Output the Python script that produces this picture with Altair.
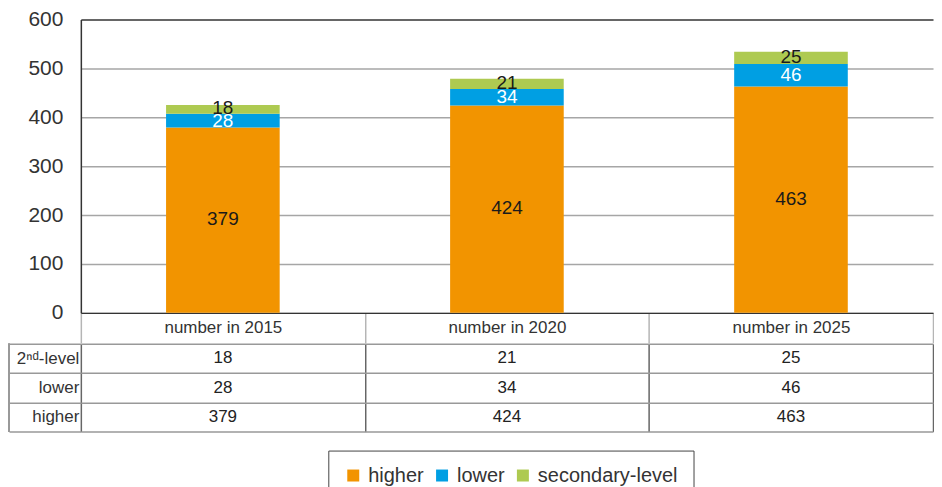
import altair as alt
import pandas as pd

categories = ["number in 2015", "number in 2020", "number in 2025"]
series = ["higher", "lower", "secondary-level"]
row_labels = ["higher", "lower", "2\u207f\u1d48-level"]
higher = [379, 424, 463]
lower = [28, 34, 46]
secondary = [18, 21, 25]

colors = ["#F29400", "#009FE3", "#AECA51"]
FONT = "Liberation Sans"

rows = []
for i, c in enumerate(categories):
    for j, (s, vals) in enumerate(zip(series, [higher, lower, secondary])):
        rows.append({"category": c, "series": s, "value": vals[i], "ord": j,
                     "row_label": row_labels[j]})
df = pd.DataFrame(rows)

W = 854
H = 294
TH = 88

base = alt.Chart(df).transform_stack(
    stack="value", groupby=["category"], sort=[alt.SortField("ord")], as_=["y0", "y1"]
).transform_calculate(mid="(datum.y0 + datum.y1) / 2")

xscale = alt.Scale(paddingInner=0, paddingOuter=0)
xaxis = alt.Axis(title=None, labelFontSize=17, labelColor="#333", labelFont=FONT,
                 labelBaseline="middle", labelPadding=-15, tickSize=30,
                 tickBand="extent", tickColor="#b5b5b5", tickWidth=1.5,
                 domainColor="#333", domainWidth=1.5, labelAngle=0)
yaxis = alt.Axis(title=None, values=[0, 100, 200, 300, 400, 500, 600],
                 labelFontSize=21, labelColor="#333", labelFont=FONT,
                 ticks=False, labelPadding=18, domainColor="#333", domainWidth=1.5,
                 gridColor={"condition": {"test": "datum.value === 600", "value": "#333"},
                            "value": "#a6a6a6"},
                 gridWidth=1.5)

bars = base.mark_bar(width=alt.RelativeBandSize(0.4)).encode(
    x=alt.X("category:N", sort=categories, scale=xscale, axis=xaxis),
    y=alt.Y("y0:Q", scale=alt.Scale(domain=[0, 600]), axis=yaxis),
    y2="y1:Q",
    color=alt.Color("series:N", sort=series,
                    scale=alt.Scale(domain=series, range=colors), legend=None),
    order=alt.Order("ord:Q"),
)

dark_labels = base.transform_filter("datum.series !== 'lower'").mark_text(
    fontSize=19, font=FONT, baseline="middle", color="#1a1a1a", dy=-1
).encode(
    x=alt.X("category:N", sort=categories, scale=xscale, axis=xaxis),
    y=alt.Y("mid:Q", scale=alt.Scale(domain=[0, 600]), axis=yaxis),
    text=alt.Text("value:Q"),
)
light_labels = base.transform_filter("datum.series === 'lower'").mark_text(
    fontSize=19, font=FONT, baseline="middle", color="#ffffff"
).encode(
    x=alt.X("category:N", sort=categories, scale=xscale, axis=xaxis),
    y=alt.Y("mid:Q", scale=alt.Scale(domain=[0, 600]), axis=yaxis),
    text=alt.Text("value:Q"),
)

top = alt.layer(bars, dark_labels, light_labels).properties(width=W, height=H)

table_text = alt.Chart(df).mark_text(fontSize=17, font=FONT, color="#222", baseline="middle").encode(
    x=alt.X("category:N", sort=categories, scale=alt.Scale(paddingInner=0, paddingOuter=0),
            axis=alt.Axis(title=None, labels=False, ticks=False, domain=False, grid=True,
                          tickBand="extent", gridColor="#666", gridWidth=1.5)),
    y=alt.Y("row_label:N", sort=list(reversed(row_labels)),
            scale=alt.Scale(paddingInner=0, paddingOuter=0),
            axis=alt.Axis(title=None, labelFontSize=17, labelColor="#333", labelFont=FONT,
                          tickSize=72, labelPadding=-70, tickBand="extent", grid=True,
                          gridColor="#999", gridWidth=1.5, tickColor="#999", tickWidth=1.5,
                          domain=False)),
    text="value:Q",
)
# invisible marks that carry the legend for the series colours
legend_carrier = alt.Chart(df).mark_square(opacity=0).encode(
    x=alt.X("category:N", sort=categories),
    y=alt.Y("row_label:N", sort=list(reversed(row_labels))),
    color=alt.Color("series:N", sort=series,
                    scale=alt.Scale(domain=series, range=colors),
                    legend=alt.Legend(title=None, orient="none", direction="horizontal",
                                      legendX=248, legendY=107, symbolType="square",
                                      symbolSize=144, symbolStrokeWidth=0, symbolOpacity=1,
                                      labelFontSize=20, labelFont=FONT, labelColor="#333",
                                      labelOffset=5, columnPadding=8, padding=15,
                                      strokeColor="#444", fillColor="white")),
)
left_border = alt.Chart(df).mark_rule(color="#999", strokeWidth=1.5).encode(
    x=alt.value(-72), y=alt.value(0), y2=alt.value(TH)
)
table = alt.layer(table_text, legend_carrier, left_border).properties(width=W, height=TH)

chart = alt.vconcat(top, table, spacing=-10).resolve_scale(
    x="independent", y="independent", color="independent"
).properties(
    padding={"left": 0, "top": 0, "right": 0, "bottom": 0}
).configure(font=FONT).configure_view(stroke=None)

chart.save("out.html", embed_options={"renderer": "svg", "actions": False})
